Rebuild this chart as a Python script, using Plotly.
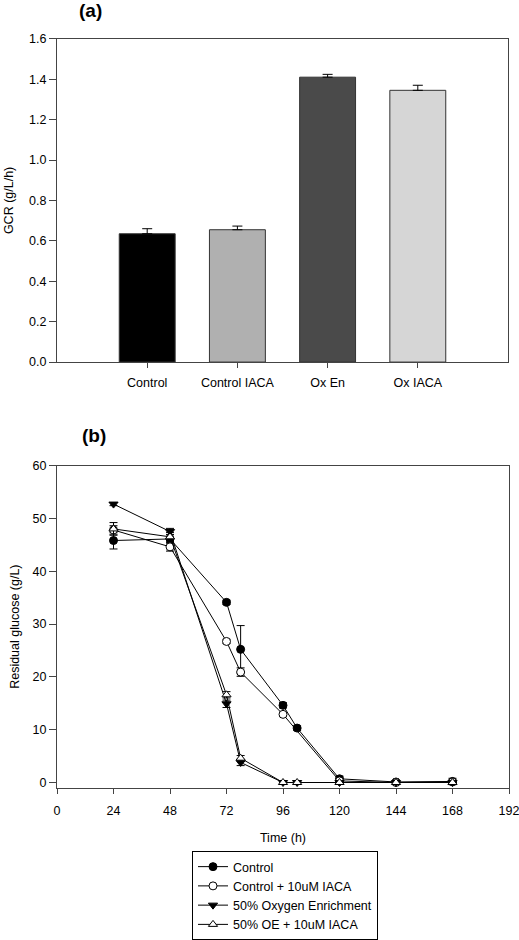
import plotly.graph_objects as go

# ---- Panel (a) data ----
categories = ["Control", "Control IACA", "Ox En", "Ox IACA"]
gcr = [0.635, 0.655, 1.41, 1.345]
gcr_err = [0.025, 0.018, 0.014, 0.025]
bar_colors = ["#000000", "#b0b0b0", "#4a4a4a", "#d6d6d6"]

# ---- Panel (b) data ----
series_names = ["Control", "Control + 10uM IACA", "50% Oxygen Enrichment", "50% OE + 10uM IACA"]
time_control = [24, 48, 72, 78, 96, 102, 120, 144, 168]
glc_control = [45.8, 46.1, 34.1, 25.2, 14.6, 10.3, 0.7, 0.1, 0.2]
err_control = [1.6, 0.8, 0.4, 4.5, 0.5, 0.4, 0.5, 0.2, 0.6]

time_ctrl_iaca = [24, 48, 72, 78, 96, 120, 144, 168]
glc_ctrl_iaca = [47.8, 44.6, 26.7, 20.9, 12.9, 0.3, 0.0, 0.1]
err_ctrl_iaca = [0.8, 0.8, 0.4, 0.8, 0.4, 0.3, 0.2, 0.3]

time_oe = [24, 48, 72, 78, 96, 102, 120, 144, 168]
glc_oe = [52.7, 47.5, 14.9, 3.8, 0.0, 0.0, 0.0, 0.0, 0.0]
err_oe = [0.3, 0.6, 0.7, 0.6, 0.1, 0.1, 0.1, 0.1, 0.1]

time_oe_iaca = [24, 48, 72, 78, 96, 102, 120, 144, 168]
glc_oe_iaca = [48.0, 46.5, 16.6, 4.6, 0.0, 0.0, 0.0, 0.0, 0.0]
err_oe_iaca = [1.2, 0.8, 0.6, 0.5, 0.1, 0.1, 0.1, 0.1, 0.1]

FONT = "Liberation Sans, Arial, sans-serif"
AX = "#444444"
W, H = 519, 940

fig = go.Figure()

fig.add_trace(go.Bar(
    x=categories, y=gcr, xaxis="x", yaxis="y",
    marker=dict(color=bar_colors, line=dict(color="#333333", width=1)),
    width=0.62,
    error_y=dict(type="data", symmetric=False, array=gcr_err,
                 arrayminus=[0] * len(gcr_err), color="black", thickness=1, width=5),
    showlegend=False,
))

styles = [
    (time_control, glc_control, err_control, "circle", "black"),
    (time_ctrl_iaca, glc_ctrl_iaca, err_ctrl_iaca, "circle", "white"),
    (time_oe, glc_oe, err_oe, "triangle-down", "black"),
    (time_oe_iaca, glc_oe_iaca, err_oe_iaca, "triangle-up", "white"),
]
for name, (t, g, e, sym, fill) in zip(series_names, styles):
    fig.add_trace(go.Scatter(
        x=t, y=g, xaxis="x2", yaxis="y2", name=name,
        mode="lines+markers",
        line=dict(color="black", width=1),
        marker=dict(symbol=sym, size=8, color=fill, line=dict(color="black", width=1)),
        error_y=dict(type="data", array=e, color="black", thickness=1, width=4),
    ))

axis_common = dict(showline=True, linecolor=AX, linewidth=1, mirror=True,
                   ticks="outside", tickcolor=AX, showgrid=False,
                   zeroline=False, automargin=False, ticklabeloverflow="allow",
                   tickfont=dict(family=FONT, size=12.5, color="black"))

fig.update_layout(
    width=W, height=H,
    margin=dict(l=0, r=0, t=0, b=0),
    paper_bgcolor="white", plot_bgcolor="white",
    font=dict(family=FONT, size=12.5, color="black"),
    xaxis=dict(domain=[57 / W, 508 / W], anchor="y", type="category",
               range=[-1, 4], ticklen=5, ticklabelstandoff=4, **axis_common),
    yaxis=dict(domain=[1 - 364 / H, 1 - 39 / H], anchor="x", range=[0, 1.6],
               dtick=0.2, tickformat=".1f", ticklen=7,
               title=dict(text="GCR (g/L/h)", standoff=12,
                          font=dict(family=FONT, size=12.5)),
               **axis_common),
    xaxis2=dict(domain=[57 / W, 509 / W], anchor="y2", range=[0, 192],
                dtick=24, tick0=0, ticklen=5, ticklabelstandoff=6,
                title=dict(text="Time (h)", standoff=16,
                           font=dict(family=FONT, size=12.5)),
                **axis_common),
    yaxis2=dict(domain=[1 - 792 / H, 1 - 468 / H], anchor="x2", range=[-1, 60],
                tickvals=[0, 10, 20, 30, 40, 50, 60], ticklen=7,
                title=dict(text="Residual glucose (g/L)", standoff=10,
                           font=dict(family=FONT, size=12.5)),
                **axis_common),
    legend=dict(x=192 / W, y=1 - 856 / H, xanchor="left", yanchor="top",
                bordercolor="black", borderwidth=1, bgcolor="white",
                font=dict(family=FONT, size=12.5), tracegroupgap=0, itemwidth=30),
    annotations=[
        dict(text="<b>(a)</b>", x=90 / W, y=1 - 11 / H, xref="paper", yref="paper",
             showarrow=False, xanchor="center", yanchor="middle",
             font=dict(family=FONT, size=19)),
        dict(text="<b>(b)</b>", x=94 / W, y=1 - 438 / H, xref="paper", yref="paper",
             showarrow=False, xanchor="center", yanchor="middle",
             font=dict(family=FONT, size=19)),
    ],
)

fig.write_html(
    "out.html",
    config={"displayModeBar": False},
    post_script="document.body.style.margin='0';document.body.style.overflow='hidden';",
)
